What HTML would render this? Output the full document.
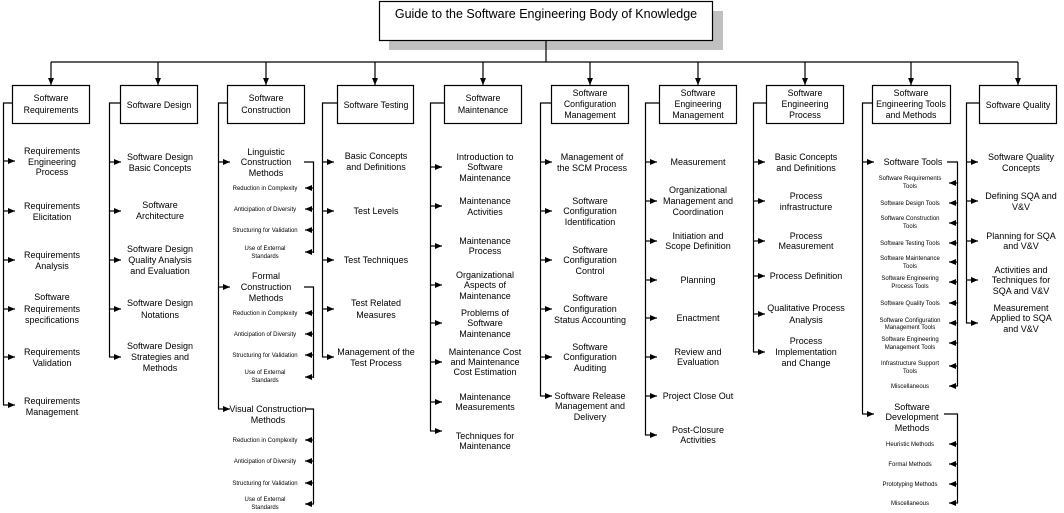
<!DOCTYPE html>
<html><head><meta charset="utf-8"><style>
html,body{margin:0;padding:0;background:#fff;}
svg{display:block;font-family:"Liberation Sans",Arial,sans-serif;}
.b{font-size:8.8px;text-anchor:middle;fill:#000;}
.c{font-size:9px;text-anchor:middle;fill:#000;}
.s{font-size:6px;text-anchor:middle;fill:#000;}
line,polyline{stroke:#000;stroke-width:1.2;fill:none;}
rect.bx{fill:#fff;stroke:#000;stroke-width:1.2;}
</style></head><body>
<svg width="1064" height="513" viewBox="0 0 1064 513" xmlns="http://www.w3.org/2000/svg">
<defs><marker id="a" markerUnits="userSpaceOnUse" markerWidth="7" markerHeight="6" refX="7" refY="3" orient="auto"><path d="M0,0 L7,3 L0,6 z" fill="#000"/></marker></defs>
<rect x="389" y="11" width="334" height="39" fill="#c0c0c0"/>
<rect class="bx" x="379.5" y="1.5" width="333" height="39"/>
<text x="546" y="18" style="font-size:12.5px" text-anchor="middle">Guide to the Software Engineering Body of Knowledge</text>
<line x1="546" y1="40" x2="546" y2="62"/>
<line x1="51" y1="62" x2="1018" y2="62"/>
<g marker-end="url(#a)">
<line x1="51" y1="62" x2="51" y2="85"/><line x1="158" y1="62" x2="158" y2="85"/><line x1="266" y1="62" x2="266" y2="85"/><line x1="375" y1="62" x2="375" y2="85"/><line x1="483" y1="62" x2="483" y2="85"/><line x1="590" y1="62" x2="590" y2="85"/><line x1="698" y1="62" x2="698" y2="85"/><line x1="805" y1="62" x2="805" y2="85"/><line x1="911" y1="62" x2="911" y2="85"/><line x1="1018" y1="62" x2="1018" y2="85"/>
</g>
<rect class="bx" x="12.5" y="85.5" width="77" height="38"/>
<text class="b" x="51" y="101">Software</text><text class="b" x="51" y="113">Requirements</text>
<rect class="bx" x="120.5" y="85.5" width="77" height="38"/>
<text class="b" x="159" y="108">Software Design</text>
<rect class="bx" x="227.5" y="85.5" width="77" height="38"/>
<text class="b" x="266" y="101">Software</text><text class="b" x="266" y="113">Construction</text>
<rect class="bx" x="337.5" y="85.5" width="76" height="38"/>
<text class="b" x="376" y="108">Software Testing</text>
<rect class="bx" x="444.5" y="85.5" width="77" height="38"/>
<text class="b" x="483" y="101">Software</text><text class="b" x="483" y="113">Maintenance</text>
<rect class="bx" x="551.5" y="85.5" width="77" height="38"/>
<text class="b" x="590" y="96">Software</text><text class="b" x="590" y="107">Configuration</text><text class="b" x="590" y="118">Management</text>
<rect class="bx" x="659.5" y="85.5" width="77" height="38"/>
<text class="b" x="698" y="96">Software</text><text class="b" x="698" y="107">Engineering</text><text class="b" x="698" y="118">Management</text>
<rect class="bx" x="766.5" y="85.5" width="77" height="38"/>
<text class="b" x="805" y="96">Software</text><text class="b" x="805" y="107">Engineering</text><text class="b" x="805" y="118">Process</text>
<rect class="bx" x="872.5" y="85.5" width="78" height="38"/>
<text class="b" x="911" y="96">Software</text><text class="b" x="911" y="107">Engineering Tools</text><text class="b" x="911" y="118">and Methods</text>
<rect class="bx" x="979.5" y="85.5" width="77" height="38"/>
<text class="b" x="1018" y="108">Software Quality</text>
<polyline points="12,103 3.5,103 3.5,405"/>
<polyline points="120,103 109.5,103 109.5,357"/>
<polyline points="227,103 218.5,103 218.5,409"/>
<polyline points="337,103 322.5,103 322.5,357"/>
<polyline points="444,103 430.5,103 430.5,431"/>
<polyline points="551,103 540.5,103 540.5,396"/>
<polyline points="659,103 645.5,103 645.5,435"/>
<polyline points="766,103 753.5,103 753.5,352"/>
<polyline points="872,103 862.5,103 862.5,414"/>
<polyline points="979,103 966.5,103 966.5,323"/>
<g marker-end="url(#a)">
<line x1="3" y1="161" x2="15" y2="161"/><line x1="3" y1="211" x2="15" y2="211"/><line x1="3" y1="260" x2="15" y2="260"/><line x1="3" y1="309" x2="15" y2="309"/><line x1="3" y1="357" x2="15" y2="357"/><line x1="3" y1="405" x2="15" y2="405"/>
<line x1="109" y1="162" x2="121" y2="162"/><line x1="109" y1="211" x2="121" y2="211"/><line x1="109" y1="260" x2="121" y2="260"/><line x1="109" y1="309" x2="121" y2="309"/><line x1="109" y1="357" x2="121" y2="357"/>
<line x1="218" y1="162" x2="230" y2="162"/><line x1="218" y1="287" x2="230" y2="287"/><line x1="218" y1="409" x2="230" y2="409"/>
<line x1="322" y1="162" x2="334" y2="162"/><line x1="322" y1="211" x2="334" y2="211"/><line x1="322" y1="260" x2="334" y2="260"/><line x1="322" y1="309" x2="334" y2="309"/><line x1="322" y1="357" x2="334" y2="357"/>
<line x1="430" y1="167" x2="442" y2="167"/><line x1="430" y1="206" x2="442" y2="206"/><line x1="430" y1="246" x2="442" y2="246"/><line x1="430" y1="285" x2="442" y2="285"/><line x1="430" y1="323" x2="442" y2="323"/><line x1="430" y1="362" x2="442" y2="362"/><line x1="430" y1="402" x2="442" y2="402"/><line x1="430" y1="431" x2="442" y2="431"/>
<line x1="540" y1="162" x2="552" y2="162"/><line x1="540" y1="211" x2="552" y2="211"/><line x1="540" y1="260" x2="552" y2="260"/><line x1="540" y1="309" x2="552" y2="309"/><line x1="540" y1="357" x2="552" y2="357"/><line x1="540" y1="396" x2="552" y2="396"/>
<line x1="645" y1="162" x2="657" y2="162"/><line x1="645" y1="201" x2="657" y2="201"/><line x1="645" y1="241" x2="657" y2="241"/><line x1="645" y1="280" x2="657" y2="280"/><line x1="645" y1="318" x2="657" y2="318"/><line x1="645" y1="357" x2="657" y2="357"/><line x1="645" y1="396" x2="657" y2="396"/><line x1="645" y1="435" x2="657" y2="435"/>
<line x1="753" y1="162" x2="765" y2="162"/><line x1="753" y1="201" x2="765" y2="201"/><line x1="753" y1="241" x2="765" y2="241"/><line x1="753" y1="276" x2="765" y2="276"/><line x1="753" y1="314" x2="765" y2="314"/><line x1="753" y1="352" x2="765" y2="352"/>
<line x1="862" y1="162" x2="874" y2="162"/><line x1="862" y1="414" x2="874" y2="414"/>
<line x1="966" y1="162" x2="978" y2="162"/><line x1="966" y1="201" x2="978" y2="201"/><line x1="966" y1="241" x2="978" y2="241"/><line x1="966" y1="280" x2="978" y2="280"/><line x1="966" y1="323" x2="978" y2="323"/>
</g>
<polyline points="304,162 313.5,162 313.5,253"/>
<polyline points="304,287 313.5,287 313.5,378"/>
<polyline points="306,409 313.5,409 313.5,504"/>
<polyline points="947,162 957.5,162 957.5,386"/>
<polyline points="944,414 957.5,414 957.5,503"/>
<g marker-end="url(#a)">
<line x1="314" y1="188" x2="305" y2="188"/><line x1="314" y1="209" x2="305" y2="209"/><line x1="314" y1="230" x2="305" y2="230"/><line x1="314" y1="252" x2="305" y2="252"/>
<line x1="314" y1="313" x2="305" y2="313"/><line x1="314" y1="334" x2="305" y2="334"/><line x1="314" y1="355" x2="305" y2="355"/><line x1="314" y1="377" x2="305" y2="377"/>
<line x1="314" y1="440" x2="305" y2="440"/><line x1="314" y1="461" x2="305" y2="461"/><line x1="314" y1="483" x2="305" y2="483"/><line x1="314" y1="504" x2="305" y2="504"/>
<line x1="958" y1="183" x2="949" y2="183"/><line x1="958" y1="203" x2="949" y2="203"/><line x1="958" y1="223" x2="949" y2="223"/><line x1="958" y1="243" x2="949" y2="243"/><line x1="958" y1="262" x2="949" y2="262"/><line x1="958" y1="282" x2="949" y2="282"/><line x1="958" y1="303" x2="949" y2="303"/><line x1="958" y1="323" x2="949" y2="323"/><line x1="958" y1="343" x2="949" y2="343"/><line x1="958" y1="366" x2="949" y2="366"/><line x1="958" y1="386" x2="949" y2="386"/>
<line x1="958" y1="444" x2="949" y2="444"/><line x1="958" y1="464" x2="949" y2="464"/><line x1="958" y1="484" x2="949" y2="484"/><line x1="958" y1="503" x2="949" y2="503"/>
</g>
<text class="c" x="52" y="154">Requirements</text><text class="c" x="52" y="165">Engineering</text><text class="c" x="52" y="175">Process</text>
<text class="c" x="52" y="209">Requirements</text><text class="c" x="52" y="220">Elicitation</text>
<text class="c" x="52" y="258">Requirements</text><text class="c" x="52" y="269">Analysis</text>
<text class="c" x="52" y="300">Software</text><text class="c" x="52" y="312">Requirements</text><text class="c" x="52" y="323">specifications</text>
<text class="c" x="52" y="355">Requirements</text><text class="c" x="52" y="366">Validation</text>
<text class="c" x="52" y="404">Requirements</text><text class="c" x="52" y="415">Management</text>
<text class="c" x="160" y="160">Software Design</text><text class="c" x="160" y="171">Basic Concepts</text>
<text class="c" x="160" y="208">Software</text><text class="c" x="160" y="219">Architecture</text>
<text class="c" x="160" y="252">Software Design</text><text class="c" x="160" y="263">Quality Analysis</text><text class="c" x="160" y="274">and Evaluation</text>
<text class="c" x="160" y="306">Software Design</text><text class="c" x="160" y="318">Notations</text>
<text class="c" x="160" y="349">Software Design</text><text class="c" x="160" y="360">Strategies and</text><text class="c" x="160" y="371">Methods</text>
<text class="c" x="266" y="155">Linguistic</text><text class="c" x="266" y="165">Construction</text><text class="c" x="266" y="176">Methods</text>
<text class="s" x="265" y="190">Reduction in Complexity</text>
<text class="s" x="265" y="211">Anticipation of Diversity</text>
<text class="s" x="265" y="232">Structuring for Validation</text>
<text class="s" x="265" y="250">Use of External</text><text class="s" x="265" y="258">Standards</text>
<text class="c" x="266" y="279">Formal</text><text class="c" x="266" y="290">Construction</text><text class="c" x="266" y="301">Methods</text>
<text class="s" x="265" y="315">Reduction in Complexity</text>
<text class="s" x="265" y="336">Anticipation of Diversity</text>
<text class="s" x="265" y="357">Structuring for Validation</text>
<text class="s" x="265" y="374">Use of External</text><text class="s" x="265" y="382">Standards</text>
<text class="c" x="268" y="412">Visual Construction</text><text class="c" x="268" y="423">Methods</text>
<text class="s" x="265" y="442">Reduction in Complexity</text>
<text class="s" x="265" y="463">Anticipation of Diversity</text>
<text class="s" x="265" y="485">Structuring for Validation</text>
<text class="s" x="265" y="501">Use of External</text><text class="s" x="265" y="509">Standards</text>
<text class="c" x="376" y="159">Basic Concepts</text><text class="c" x="376" y="170">and Definitions</text>
<text class="c" x="376" y="214">Test Levels</text>
<text class="c" x="376" y="263">Test Techniques</text>
<text class="c" x="376" y="306">Test Related</text><text class="c" x="376" y="318">Measures</text>
<text class="c" x="376" y="355">Management of the</text><text class="c" x="376" y="366">Test Process</text>
<text class="c" x="485" y="160">Introduction to</text><text class="c" x="485" y="170">Software</text><text class="c" x="485" y="181">Maintenance</text>
<text class="c" x="485" y="204">Maintenance</text><text class="c" x="485" y="215">Activities</text>
<text class="c" x="485" y="244">Maintenance</text><text class="c" x="485" y="254">Process</text>
<text class="c" x="485" y="278">Organizational</text><text class="c" x="485" y="288">Aspects of</text><text class="c" x="485" y="299">Maintenance</text>
<text class="c" x="485" y="316">Problems of</text><text class="c" x="485" y="326">Software</text><text class="c" x="485" y="337">Maintenance</text>
<text class="c" x="485" y="355">Maintenance Cost</text><text class="c" x="485" y="365">and Maintenance</text><text class="c" x="485" y="375">Cost Estimation</text>
<text class="c" x="485" y="400">Maintenance</text><text class="c" x="485" y="410">Measurements</text>
<text class="c" x="485" y="439">Techniques for</text><text class="c" x="485" y="449">Maintenance</text>
<text class="c" x="592" y="160">Management of</text><text class="c" x="592" y="171">the SCM Process</text>
<text class="c" x="590" y="204">Software</text><text class="c" x="590" y="214">Configuration</text><text class="c" x="590" y="225">Identification</text>
<text class="c" x="590" y="253">Software</text><text class="c" x="590" y="263">Configuration</text><text class="c" x="590" y="274">Control</text>
<text class="c" x="590" y="301">Software</text><text class="c" x="590" y="312">Configuration</text><text class="c" x="590" y="323">Status Accounting</text>
<text class="c" x="590" y="350">Software</text><text class="c" x="590" y="360">Configuration</text><text class="c" x="590" y="371">Auditing</text>
<text class="c" x="590" y="399">Software Release</text><text class="c" x="590" y="409">Management and</text><text class="c" x="590" y="420">Delivery</text>
<text class="c" x="698" y="165">Measurement</text>
<text class="c" x="698" y="193">Organizational</text><text class="c" x="698" y="204">Management and</text><text class="c" x="698" y="215">Coordination</text>
<text class="c" x="698" y="239">Initiation and</text><text class="c" x="698" y="249">Scope Definition</text>
<text class="c" x="698" y="283">Planning</text>
<text class="c" x="698" y="321">Enactment</text>
<text class="c" x="698" y="355">Review and</text><text class="c" x="698" y="365">Evaluation</text>
<text class="c" x="698" y="399">Project Close Out</text>
<text class="c" x="698" y="433">Post-Closure</text><text class="c" x="698" y="443">Activities</text>
<text class="c" x="806" y="160">Basic Concepts</text><text class="c" x="806" y="171">and Definitions</text>
<text class="c" x="806" y="199">Process</text><text class="c" x="806" y="210">infrastructure</text>
<text class="c" x="806" y="239">Process</text><text class="c" x="806" y="249">Measurement</text>
<text class="c" x="806" y="279">Process Definition</text>
<text class="c" x="806" y="311">Qualitative Process</text><text class="c" x="806" y="323">Analysis</text>
<text class="c" x="806" y="344">Process</text><text class="c" x="806" y="355">Implementation</text><text class="c" x="806" y="366">and Change</text>
<text class="c" x="913" y="165">Software Tools</text>
<text class="s" x="910" y="180">Software Requirements</text><text class="s" x="910" y="188">Tools</text>
<text class="s" x="910" y="205">Software Design Tools</text>
<text class="s" x="910" y="220">Software Construction</text><text class="s" x="910" y="228">Tools</text>
<text class="s" x="910" y="245">Software Testing Tools</text>
<text class="s" x="910" y="260">Software Maintenance</text><text class="s" x="910" y="268">Tools</text>
<text class="s" x="910" y="280">Software Engineering</text><text class="s" x="910" y="288">Process Tools</text>
<text class="s" x="910" y="305">Software Quality Tools</text>
<text class="s" x="910" y="322">Software Configuration</text><text class="s" x="910" y="329">Management Tools</text>
<text class="s" x="910" y="341">Software Engineering</text><text class="s" x="910" y="349">Management Tools</text>
<text class="s" x="910" y="365">Infrastructure Support</text><text class="s" x="910" y="373">Tools</text>
<text class="s" x="910" y="388">Miscellaneous</text>
<text class="c" x="912" y="410">Software</text><text class="c" x="912" y="420">Development</text><text class="c" x="912" y="431">Methods</text>
<text class="s" x="910" y="446">Heuristic Methods</text>
<text class="s" x="910" y="466">Formal Methods</text>
<text class="s" x="910" y="486">Prototyping Methods</text>
<text class="s" x="910" y="505">Miscellaneous</text>
<text class="c" x="1021" y="160">Software Quality</text><text class="c" x="1021" y="171">Concepts</text>
<text class="c" x="1021" y="199">Defining SQA and</text><text class="c" x="1021" y="210">V&amp;V</text>
<text class="c" x="1021" y="239">Planning for SQA</text><text class="c" x="1021" y="249">and V&amp;V</text>
<text class="c" x="1021" y="273">Activities and</text><text class="c" x="1021" y="283">Techniques for</text><text class="c" x="1021" y="294">SQA and V&amp;V</text>
<text class="c" x="1021" y="311">Measurement</text><text class="c" x="1021" y="321">Applied to SQA</text><text class="c" x="1021" y="332">and V&amp;V</text>
</svg>
</body></html>
